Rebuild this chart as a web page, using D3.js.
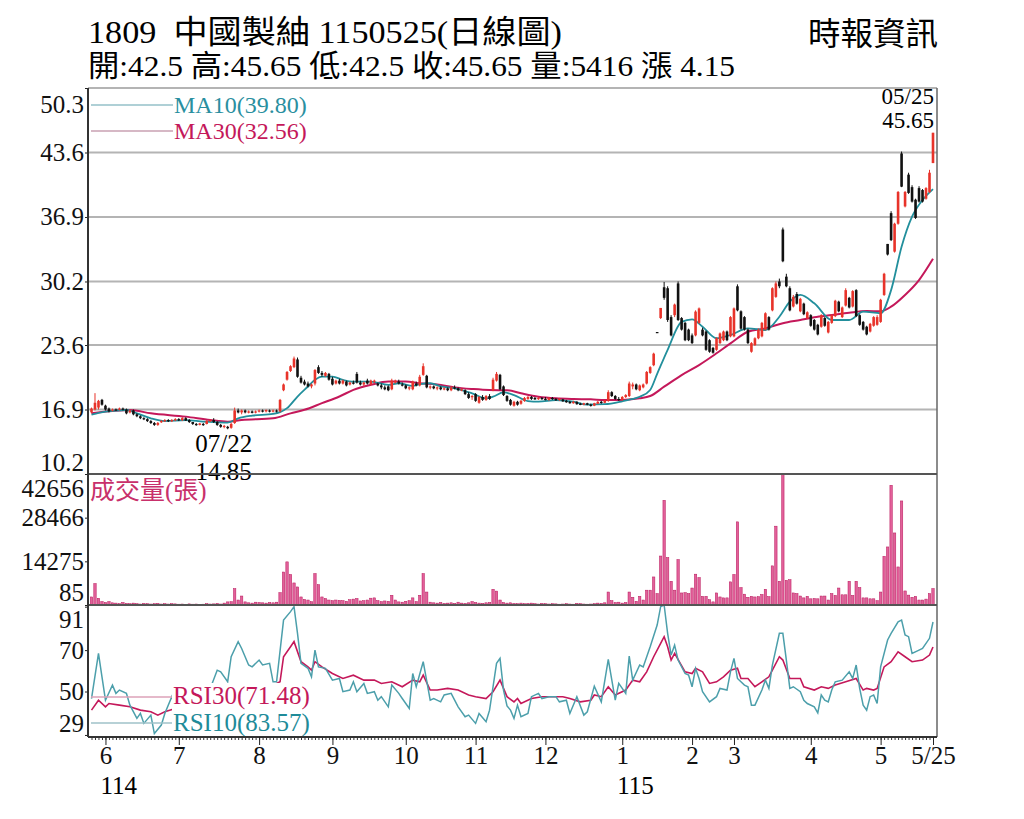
<!DOCTYPE html>
<html>
<head>
<meta charset="utf-8">
<script src="https://cdn.jsdelivr.net/npm/d3@7"></script>
<style>
  body { margin: 0; background: #fff; }
  svg { display: block; }
  text { font-family: "Liberation Serif", "Noto Sans CJK TC", serif; }
</style>
</head>
<body>
<svg id="chart" width="1024" height="819"></svg>
<script>
"use strict";

/**
 * Daily candlestick chart of 1809 with volume and RSI panels.
 */

var stockCode = "1809";
var stockName = "中國製紬";
var chartDate = "1150525";
var sourceName = "時報資訊";
var lowDate = "07/22";
var lastDate = "05/25";

// one value per trading day, from 114/05 to 115/05/25
var openPrices = [
  16.6,16.9,17.1,17.9,17.3,17.0,16.8,16.9,16.9,17.0,
  16.9,16.6,16.8,16.4,16.2,16.0,15.9,15.7,15.5,15.3,
  15.6,15.7,15.8,15.7,15.8,15.9,15.8,16.0,15.8,15.6,
  15.4,15.3,15.4,15.4,15.7,15.8,15.6,15.3,15.1,15.1,
  15.0,15.5,16.8,16.6,16.8,16.6,16.7,16.6,16.7,16.8,
  16.7,16.8,16.7,16.8,16.7,18.9,20.0,20.9,21.3,22.1,
  20.2,19.8,19.6,19.3,19.6,21.3,20.7,20.4,20.6,20.1,
  19.6,19.9,19.6,19.8,19.5,19.7,20.6,19.7,19.5,19.9,
  19.5,19.8,19.6,19.4,19.2,19.3,19.0,19.7,19.8,19.5,
  19.4,19.1,19.0,19.6,19.4,20.5,20.4,19.2,19.3,19.1,
  19.2,19.0,19.1,18.9,19.2,19.1,18.9,18.9,18.5,18.2,
  18.5,17.6,18.2,17.9,18.3,18.9,19.9,20.5,19.3,18.3,
  17.9,17.3,17.7,17.5,17.8,18.0,18.2,18.1,18.0,18.1,
  18.0,17.9,18.1,18.0,17.9,17.95,17.8,17.7,17.55,17.7,
  17.5,17.4,17.55,17.4,17.3,17.5,17.7,17.6,17.8,18.7,
  18.3,18.0,17.9,18.2,18.3,19.3,19.5,18.9,19.2,19.6,
  20.7,21.5,24.95,26.4,29.6,29.5,26.5,26.7,30.0,26.4,
  25.9,25.2,24.6,24.6,25.9,25.2,25.0,24.1,23.3,23.1,
  23.8,24.1,25.0,24.5,24.5,29.7,27.1,26.5,25.2,22.9,
  23.6,24.3,24.5,25.2,26.5,27.2,28.6,30.2,35.6,30.7,
  29.5,27.6,28.9,27.1,27.9,26.4,26.7,26.2,25.7,25.5,
  26.4,24.9,25.9,26.6,28.1,26.5,27.7,28.5,27.6,29.3,
  26.7,26.0,25.5,25.0,25.6,25.7,26.0,28.8,34.1,37.3,
  33.3,36.2,43.5,38.0,41.3,40.0,38.7,39.9,39.7,38.8,
  39.5,42.5
];

var highPrices = [
  17.1,18.6,17.9,18.0,17.4,17.1,17.0,17.0,17.1,17.1,
  17.0,16.9,16.9,16.5,16.3,16.1,16.0,15.8,15.6,15.6,
  15.8,15.9,15.9,15.9,16.0,16.0,16.1,16.1,15.9,15.6,
  15.5,15.5,15.5,15.8,15.9,16.0,15.7,15.4,15.3,15.2,
  15.5,17.1,17.0,16.9,16.9,16.8,16.8,16.8,16.9,16.9,
  16.9,16.9,16.9,16.9,18.0,19.6,20.9,21.5,22.4,22.3,
  20.4,20.0,19.8,19.6,21.1,21.5,20.9,20.8,20.7,20.3,
  20.0,20.1,20.0,19.9,19.8,19.9,20.8,19.9,19.8,20.1,
  20.0,20.0,19.7,19.6,19.4,19.4,20.1,20.0,20.0,19.7,
  19.5,19.3,19.9,19.8,20.5,21.7,20.5,19.4,19.4,19.3,
  19.3,19.2,19.2,19.3,19.4,19.2,19.1,19.0,18.7,18.4,
  18.6,18.3,18.4,18.4,18.5,20.2,20.8,20.6,19.4,18.4,
  18.0,17.8,17.8,17.9,18.2,18.3,18.3,18.2,18.2,18.2,
  18.2,18.2,18.2,18.1,18.1,18.0,17.9,17.8,17.8,17.75,
  17.6,17.6,17.6,17.5,17.6,17.8,17.8,17.9,18.9,18.8,
  18.4,18.2,18.3,18.5,19.8,19.7,19.6,19.5,19.6,20.9,
  21.4,22.8,24.95,27.45,30.15,29.7,26.7,27.9,30.2,26.5,
  26.0,25.3,24.8,27.2,27.5,25.4,25.1,24.2,23.4,24.4,
  24.9,25.1,25.1,26.6,27.5,29.9,27.2,26.6,25.3,23.9,
  24.4,25.3,26.0,27.0,26.6,29.6,30.2,30.5,35.8,31.0,
  29.7,28.8,29.1,28.5,28.0,27.1,26.8,26.3,25.8,26.8,
  26.5,26.1,26.8,28.3,28.2,27.6,29.5,28.6,29.3,29.4,
  26.8,26.1,25.6,25.9,26.6,26.7,28.4,31.1,34.1,37.5,
  36.3,39.6,43.7,39.6,41.5,40.2,38.8,40.1,39.8,40.0,
  41.8,45.65
];

var lowPrices = [
  16.5,16.8,16.9,17.3,16.8,16.6,16.7,16.8,16.8,16.8,
  16.4,16.5,16.3,16.1,15.9,15.8,15.6,15.4,15.2,15.2,
  15.5,15.6,15.6,15.6,15.7,15.7,15.7,15.7,15.5,15.3,
  15.2,15.25,15.2,15.35,15.6,15.5,15.2,15.0,14.95,14.85,
  14.9,15.4,16.5,16.4,16.5,16.5,16.5,16.5,16.6,16.6,
  16.6,16.6,16.6,16.6,16.6,18.8,19.9,20.8,21.2,20.2,
  19.6,19.4,19.2,19.1,19.4,20.6,20.3,20.3,19.9,19.4,
  19.5,19.5,19.5,19.3,19.4,19.5,19.6,19.4,19.3,19.5,
  19.4,19.6,19.3,19.0,18.9,18.8,18.9,19.6,19.5,19.3,
  19.0,18.9,18.9,19.3,19.3,20.4,19.1,19.0,19.0,18.9,
  18.9,18.9,18.8,18.8,19.0,18.8,18.8,18.4,18.0,17.9,
  17.7,17.5,17.8,17.8,17.9,18.8,19.8,18.9,18.3,17.7,
  17.3,17.2,17.3,17.4,17.7,17.9,17.9,17.9,17.9,17.9,
  17.85,17.8,17.9,17.8,17.8,17.7,17.6,17.5,17.5,17.4,
  17.35,17.35,17.35,17.2,17.25,17.45,17.5,17.55,17.7,18.2,
  17.9,17.8,17.8,18.1,18.2,19.0,18.9,18.8,19.1,19.5,
  20.6,21.4,24.95,26.3,28.3,26.0,24.5,26.5,26.1,25.1,
  24.0,24.0,23.7,24.5,25.8,24.5,23.0,22.8,22.7,23.0,
  23.7,24.0,24.0,24.4,24.4,27.1,25.2,25.1,23.7,22.8,
  23.5,24.2,24.4,25.1,25.1,27.1,28.5,29.5,32.2,29.6,
  27.1,27.5,27.8,27.0,26.7,26.3,25.5,25.1,24.6,25.4,
  25.5,24.8,25.8,26.5,27.0,26.4,27.6,27.4,27.5,26.5,
  25.6,25.1,24.6,24.9,25.5,25.6,25.9,28.7,32.9,34.4,
  33.2,36.1,40.0,37.9,39.3,38.4,36.7,38.4,38.4,38.7,
  39.4,42.5
];

var closePrices = [
  17.0,17.6,17.8,17.4,16.9,16.7,16.9,16.85,17.0,16.9,
  16.5,16.8,16.4,16.2,16.0,15.9,15.7,15.5,15.3,15.5,
  15.7,15.8,15.7,15.8,15.9,15.8,16.0,15.75,15.6,15.4,
  15.3,15.45,15.3,15.7,15.8,15.6,15.3,15.1,15.2,14.95,
  15.4,16.8,16.6,16.8,16.6,16.7,16.55,16.7,16.8,16.7,
  16.85,16.7,16.8,16.75,17.9,19.5,20.8,21.4,22.2,20.3,
  19.7,19.5,19.3,19.5,21.0,20.7,20.5,20.7,20.0,19.5,
  19.9,19.6,19.9,19.4,19.7,19.6,19.7,19.5,19.7,19.6,
  19.9,19.9,19.4,19.2,19.0,18.9,19.9,19.9,19.6,19.4,
  19.1,19.2,19.8,19.4,20.3,21.4,19.2,19.3,19.1,19.2,
  19.0,19.1,18.9,19.2,19.1,18.9,19.0,18.5,18.1,18.3,
  17.8,18.2,17.9,18.3,18.0,20.0,20.6,19.0,18.4,17.8,
  17.4,17.7,17.4,17.8,18.1,18.2,18.0,17.95,18.1,18.0,
  17.9,18.1,18.0,17.85,18.0,17.75,17.65,17.55,17.7,17.45,
  17.4,17.55,17.4,17.3,17.55,17.7,17.6,17.85,18.7,18.3,
  18.0,17.9,18.2,18.4,19.6,19.5,19.0,19.4,19.5,20.8,
  21.3,22.7,24.95,27.45,28.5,26.2,24.6,27.8,26.2,25.2,
  24.1,24.1,23.8,27.07,27.4,24.6,23.1,22.9,22.8,24.3,
  24.8,25.0,24.1,26.5,27.4,27.2,25.3,25.2,23.8,23.8,
  24.3,25.2,25.9,26.9,25.2,29.5,30.0,29.7,32.3,29.7,
  27.2,28.6,27.9,28.4,26.8,27.0,25.6,25.2,24.7,26.7,
  25.6,26.0,26.7,28.2,27.1,27.5,29.3,27.5,29.2,26.6,
  25.7,25.2,24.7,25.8,26.5,26.5,28.3,31.0,33.0,34.5,
  36.2,39.5,40.05,39.5,39.4,38.5,36.8,38.5,38.5,39.9,
  41.5,45.65
];

// volume in lots (張)
var volumes = [
  2700,7050,2270,1200,900,1200,800,700,500,900,
  600,500,700,500,400,600,500,400,500,600,
  400,500,400,500,450,350,400,300,450,350,
  400,300,350,500,400,450,600,400,700,1100,
  1150,5400,1700,3000,1100,800,700,1000,900,800,
  700,900,800,1000,4100,10800,14100,10000,7250,5950,
  2700,1900,1700,1150,10300,6700,2700,2200,1700,1500,
  1700,1600,1500,1300,1800,2000,2200,1400,1500,1700,
  2300,2400,1500,1200,1400,1300,3250,1700,1100,1000,
  1300,1500,2400,1200,3250,10300,4300,1000,800,700,
  900,600,700,800,600,1000,700,600,800,1200,
  900,700,600,800,900,5200,4600,1700,900,700,
  800,600,500,700,500,600,700,500,400,600,
  500,400,500,450,350,400,500,400,350,600,
  500,400,350,400,500,700,600,800,4300,1500,
  900,1000,700,900,4300,2600,1300,2900,1700,4900,
  4900,9200,3800,16000,34100,15500,7800,4900,14850,4000,
  4100,3800,5600,10100,9000,2900,2900,1800,1100,4000,
  2700,2400,2400,7600,10000,27100,5750,3600,2600,2900,
  2700,2800,3500,5200,2800,12800,25700,7800,42600,8100,
  8300,4000,3800,3000,2400,2900,2100,2200,2100,3000,
  3000,1700,3800,3200,5600,3400,3400,7800,3200,7800,
  5750,2400,2400,2100,2100,1500,4300,15900,18950,39000,
  23500,12450,33900,4650,3300,2600,2900,1700,1700,2000,
  3800,5416
];

// moving averages: [day, value]
var ma10 = [
  [0,16.36],[4,16.67],[10,16.85],[13,16.5],[17,15.98],[21,15.7],[27,15.8],[32,15.64],
  [36,15.57],[39,15.54],[42,15.98],[46,16.26],[52,16.45],[54,16.63],[56,17.04],[59,18.25],
  [62,19.29],[64,19.98],[66,20.32],[69,20.32],[72,19.98],[75,19.8],[80,19.8],[85,19.46],
  [88,19.63],[92,19.36],[94,19.53],[97,19.63],[100,19.3],[104,19.1],[109,18.58],[113,18.06],
  [115,18.23],[118,18.68],[121,18.4],[125,17.77],[128,17.71],[133,17.88],[138,17.71],[142,17.4],
  [147,17.45],[152,17.75],[155,18.0],[157,18.23],[160,18.93],[162,20.6],[165,23.1],[169,26.0],
  [172,26.27],[175,25.5],[179,24.3],[183,24.64],[188,25.33],[193,25.16],[197,26.54],[200,28.1],
  [203,28.8],[207,27.93],[212,26.2],[217,26.2],[221,27.06],[226,26.9],[229,29.3],[232,33.8],
  [235,36.93],[238,38.66],[241,39.80]
];

var ma30 = [
  [0,16.5],[6,16.74],[11,16.85],[17,16.5],[27,16.16],[34,15.81],[39,15.64],[43,15.81],
  [52,15.98],[57,16.5],[61,16.87],[66,17.56],[71,18.25],[75,18.94],[80,19.46],[85,19.8],
  [90,19.8],[94,19.63],[99,19.5],[104,19.2],[109,19.03],[114,18.92],[119,18.9],[123,18.58],
  [128,18.23],[133,18.06],[138,17.99],[143,17.96],[147,17.88],[152,17.9],[157,18.06],[160,18.3],
  [164,19.27],[169,20.48],[174,21.52],[179,22.74],[183,23.77],[188,24.98],[193,25.33],[198,25.86],
  [203,26.2],[207,26.48],[212,26.72],[217,26.96],[222,27.13],[226,27.1],[229,27.58],[233,28.8],
  [237,30.35],[241,32.56]
];

var rsi10 = [
  [0,46.6],[2,68.4],[3,57.1],[4,45.8],[6,53.1],[7,49.1],[8,50.7],[10,49.1],[11,43.4],[13,37.0],
  [14,39.4],[15,34.6],[17,38.6],[18,29.7],[20,33.8],[21,39.4],[23,47.5],[24,42.6],[27,45],[30,50],
  [33,47],[36,60.3],[37,59.5],[39,54.7],[40,66.8],[42,74.1],[43,70.8],[45,62.8],[46,61.9],[48,65.2],
  [49,62.8],[51,63.6],[52,54.7],[53,54.7],[55,84.5],[57,88.6],[58,91.0],[59,78.1],[60,63.6],[62,61.2],
  [63,57.1],[64,70.0],[65,61.9],[67,61.2],[69,55.5],[71,56.3],[72,49.9],[74,50.7],[75,54.7],[76,49.9],
  [78,53.9],[79,49.1],[81,49.9],[82,45.8],[83,47.5],[85,42.6],[86,53.1],[88,49.1],[89,46.6],[91,41.8],
  [92,58.7],[93,52.3],[95,64.4],[97,45.8],[98,46.6],[100,45.0],[101,48.3],[103,49.1],[104,45.8],[105,42.6],
  [107,37.8],[108,38.6],[110,34.6],[111,39.4],[113,35.4],[114,41.0],[116,63.6],[117,66.0],[118,50.7],[119,43.0],
  [120,41.0],[121,37.0],[122,43.4],[123,37.8],[125,39.4],[126,47.5],[128,49.1],[129,46.6],[131,47.5],[133,47.5],
  [134,45.0],[136,45.8],[137,39.4],[139,47.5],[141,38.6],[142,40.2],[144,52.6],[146,45.0],[148,65.5],[150,45.8],
  [151,53.9],[153,49.1],[154,67.1],[155,55.5],[157,62.8],[158,61.9],[160,71.6],[162,82.1],[163,91.0],[164,91.8],
  [165,78.1],[166,67.6],[167,72.4],[168,65.2],[170,58.7],[171,57.9],[172,52.3],[173,61.2],[174,56.3],[175,49.9],
  [177,45.0],[179,47.5],[180,51.5],[182,50.7],[183,59.5],[184,66.0],[185,56.3],[187,53.1],[188,52.3],[189,43.4],
  [190,43.4],[192,50.7],[193,55.5],[194,51.5],[195,62.8],[197,78.1],[198,78.1],[199,65.2],[200,51.5],[201,52.3],
  [203,49.9],[204,45.8],[205,44.2],[207,42.6],[208,39.7],[209,48.3],[210,45.8],[211,45.0],[212,50.7],[213,54.7],
  [215,55.5],[217,59.5],[218,56.3],[219,62.8],[220,51.5],[221,43.4],[222,41.0],[223,47.5],[224,48.3],[225,44.2],
  [226,61.9],[228,74.9],[229,78.1],[231,83.7],[232,84.5],[233,77.3],[234,76.5],[235,68.4],[237,70.0],[238,70.8],
  [240,75.7],[241,83.57]
];

var rsi30 = [
  [0,41.0],[2,45.8],[4,42.6],[5,44.2],[8,43.4],[11,42.6],[14,41.0],[17,40.2],[19,38.6],[21,40.2],
  [24,41.8],[28,44],[32,46],[36,48],[40,50],[44,51],[48,52],[52,53],[54,54.7],[55,66.8],
  [57,71.6],[58,74.1],[60,64.4],[62,61.9],[63,60.3],[64,64.4],[66,61.9],[69,58.7],[72,56.3],[75,57.9],
  [78,55.5],[81,55.5],[83,53.9],[86,54.7],[89,52.3],[92,55.5],[94,54.7],[95,57.9],[97,50.7],[99,50.7],
  [102,51.5],[105,50.7],[108,48.3],[110,47.5],[113,46.6],[115,49.9],[117,55.5],[119,47.5],[121,45.0],[122,46.6],
  [123,44.2],[126,46.6],[129,47.5],[132,47.5],[135,47.5],[137,46.6],[140,45.0],[143,45.8],[144,48.3],[146,47.5],
  [148,52.3],[150,48.3],[153,50.7],[155,55.5],[157,54.7],[159,59.5],[161,66.8],[163,73.2],[164,76.5],[165,71.6],
  [166,65.2],[167,68.4],[170,59.5],[172,58.7],[173,61.2],[175,59.5],[177,53.9],[179,54.7],[181,57.1],[183,60.3],
  [185,61.2],[186,56.3],[188,56.3],[190,52.3],[192,54.7],[194,57.1],[195,60.3],[197,66.8],[198,65.2],[200,56.3],
  [203,56.3],[204,52.3],[207,50.7],[209,52.3],[211,51.5],[213,53.1],[216,54.7],[219,56.3],[221,50.7],[222,51.5],
  [224,50.7],[225,51.5],[227,61.9],[229,64.4],[231,69.2],[233,66.8],[235,64.4],[238,65.2],[240,67.6],[241,71.48]
];

var priceTicks = [10.2, 16.9, 23.6, 30.2, 36.9, 43.6, 50.3];
var volumeTicks = [85, 14275, 28466, 42656];
var rsiTicks = [29, 50, 70, 91];
var rsiRange = [28.5, 91.8];

// [day, label]
var monthTicks = [[4,"6"],[25,"7"],[48,"8"],[69,"9"],[90,"10"],[110,"11"],[130,"12"],
                  [152,"1"],[172,"2"],[184,"3"],[206,"4"],[226,"5"],[241,"5/25"]];
var yearTicks = [[4,"114"],[152,"115"]];

var RED = "#e8332a";
var TEAL = "#228f9c";
var CRIMSON = "#c4185a";

var svg = d3.select("#chart");
var days = d3.range(closePrices.length);
var lastDay = days.length - 1;

var x = d3.scaleLinear().domain([0, lastDay]).range([91.5, 933]);
var yPrice = d3.scaleLinear().domain([priceTicks[0], priceTicks[priceTicks.length - 1]]).range([474, 88]);
var yVol = d3.scaleLinear().domain([volumeTicks[0], volumeTicks[volumeTicks.length - 1]]).range([605, 474]);
var yRsi = d3.scaleLinear().domain(rsiRange).range([736, 605]);

/**
 * Title lines above the chart.
 */
function drawHeader(svg) {
  var change = +(closePrices[lastDay] - closePrices[lastDay - 1]).toFixed(2);

  svg.append("text")
    .attr("x", 88).attr("y", 43)
    .attr("font-size", 32)
    .attr("textLength", 474)
    .attr("lengthAdjust", "spacingAndGlyphs")
    .style("white-space", "pre")
    .text(stockCode + "  " + stockName + " " + chartDate + "(日線圖)");

  svg.append("text")
    .attr("x", 88).attr("y", 76)
    .attr("font-size", 30)
    .attr("textLength", 647)
    .attr("lengthAdjust", "spacingAndGlyphs")
    .text("開:" + openPrices[lastDay] + " 高:" + highPrices[lastDay] + " 低:" + lowPrices[lastDay] +
          " 收:" + closePrices[lastDay] + " 量:" + volumes[lastDay] + " 漲 " + change);

  svg.append("text")
    .attr("x", 808).attr("y", 45)
    .attr("font-size", 32)
    .attr("textLength", 130)
    .attr("lengthAdjust", "spacingAndGlyphs")
    .text(sourceName);
}

/**
 * Left axis with the edge labels nudged inside the panel.
 */
function drawAxis(svg, scale, ticks, format, shiftLow, shiftHigh) {
  var axis = d3.axisLeft(scale)
    .tickValues(ticks)
    .tickSize(3)
    .tickPadding(1)
    .tickFormat(format);

  var g = svg.append("g")
    .attr("transform", "translate(88,0)")
    .attr("color", "#222")
    .call(axis);
  g.select(".domain").remove();
  g.selectAll("text")
    .attr("font-size", 25)
    .attr("fill", "#111")
    .attr("y", function (d, i) {
      if (i == 0) return shiftLow;
      if (i == ticks.length - 1) return shiftHigh;
      return 0;
    });
}

/**
 * Price panel: grid, moving averages, candles, legend and labels.
 */
function drawPrice(svg) {
  svg.append("g").selectAll("line")
    .data(priceTicks)
    .enter()
    .append("line")
    .attr("x1", 88).attr("x2", 937)
    .attr("y1", function (d) { return yPrice(d); })
    .attr("y2", function (d) { return yPrice(d); })
    .attr("stroke", "#b4b4b4")
    .attr("stroke-width", 2);

  var maLine = d3.line()
    .x(function (d) { return x(d[0]); })
    .y(function (d) { return yPrice(d[1]); })
    .curve(d3.curveMonotoneX);

  svg.append("path").datum(ma30)
    .attr("d", maLine).attr("fill", "none")
    .attr("stroke", CRIMSON).attr("stroke-width", 2);
  svg.append("path").datum(ma10)
    .attr("d", maLine).attr("fill", "none")
    .attr("stroke", TEAL).attr("stroke-width", 1.8);

  var candleColor = function (d) { return closePrices[d] > openPrices[d] ? RED : "#111"; };

  var candles = svg.append("g").selectAll("g")
    .data(days)
    .enter()
    .append("g");

  candles.append("line")
    .attr("x1", function (d) { return x(d); })
    .attr("x2", function (d) { return x(d); })
    .attr("y1", function (d) { return yPrice(highPrices[d]); })
    .attr("y2", function (d) { return yPrice(lowPrices[d]); })
    .attr("stroke", candleColor)
    .attr("stroke-width", 1);

  candles.append("rect")
    .attr("x", function (d) { return x(d) - 1.3; })
    .attr("width", 2.6)
    .attr("y", function (d) { return yPrice(Math.max(openPrices[d], closePrices[d])); })
    .attr("height", function (d) {
      return Math.max(1.2, Math.abs(yPrice(openPrices[d]) - yPrice(closePrices[d])));
    })
    .attr("fill", candleColor);

  // legend
  var legend = svg.append("g");
  legend.append("line")
    .attr("x1", 91).attr("x2", 173).attr("y1", 105).attr("y2", 105)
    .attr("stroke", "#94c1c8").attr("stroke-width", 1.5);
  legend.append("line")
    .attr("x1", 91).attr("x2", 173).attr("y1", 131).attr("y2", 131)
    .attr("stroke", "#c9a0b2").attr("stroke-width", 1.5);
  legend.append("text")
    .attr("x", 174).attr("y", 113)
    .attr("font-size", 24)
    .attr("fill", "#2a8fa0")
    .text("MA10(" + ma10[ma10.length - 1][1].toFixed(2) + ")");
  legend.append("text")
    .attr("x", 174).attr("y", 139)
    .attr("font-size", 24)
    .attr("fill", CRIMSON)
    .text("MA30(" + ma30[ma30.length - 1][1].toFixed(2) + ")");

  // last close
  svg.append("text")
    .attr("x", 934).attr("y", 104)
    .attr("text-anchor", "end").attr("font-size", 23)
    .text(lastDate);
  svg.append("text")
    .attr("x", 934).attr("y", 128)
    .attr("text-anchor", "end").attr("font-size", 23)
    .text(closePrices[lastDay].toFixed(2));

  // lowest point
  var lowDay = d3.minIndex(lowPrices);
  var lx = x(lowDay) - 4;
  svg.append("text")
    .attr("x", lx).attr("y", yPrice(lowPrices[lowDay]) + 23)
    .attr("text-anchor", "middle").attr("font-size", 25)
    .text(lowDate);
  svg.append("rect")
    .attr("x", lx - 25).attr("y", 463)
    .attr("width", 50).attr("height", 19)
    .attr("fill", "#fff");
  svg.append("text")
    .attr("x", lx).attr("y", 480)
    .attr("text-anchor", "middle").attr("font-size", 25)
    .text(lowPrices[lowDay].toFixed(2));

  drawAxis(svg, yPrice, priceTicks, d3.format(".1f"), -12, 16);
}

/**
 * Volume panel.
 */
function drawVolume(svg) {
  svg.append("g").selectAll("rect")
    .data(days)
    .enter()
    .append("rect")
    .attr("x", function (d) { return x(d) - 1.2; })
    .attr("width", 2.4)
    .attr("y", function (d) { return yVol(volumes[d]); })
    .attr("height", function (d) { return Math.max(0.8, yVol(volumeTicks[0]) - yVol(volumes[d])); })
    .attr("fill", "#e2609a")
    .attr("stroke", "#b8165a")
    .attr("stroke-width", 0.5);

  svg.append("text")
    .attr("x", 90).attr("y", 499)
    .attr("font-size", 25)
    .attr("fill", "#c8306b")
    .text("成交量(張)");

  drawAxis(svg, yVol, volumeTicks, d3.format("d"), -13, 14);
}

/**
 * RSI panel with its legend drawn on a white patch.
 */
function drawRsi(svg) {
  var rsiLine = d3.line()
    .x(function (d) { return x(d[0]); })
    .y(function (d) { return yRsi(d[1]); });

  svg.append("path").datum(rsi30)
    .attr("d", rsiLine).attr("fill", "none")
    .attr("stroke", CRIMSON).attr("stroke-width", 1.6);
  svg.append("path").datum(rsi10)
    .attr("d", rsiLine).attr("fill", "none")
    .attr("stroke", "#4c9fab").attr("stroke-width", 1.5);

  var legend = svg.append("g");
  legend.append("rect")
    .attr("x", 172).attr("y", 683)
    .attr("width", 143).attr("height", 52)
    .attr("fill", "#fff");
  legend.append("line")
    .attr("x1", 91).attr("x2", 172).attr("y1", 697).attr("y2", 697)
    .attr("stroke", "#dca2b8").attr("stroke-width", 1.5);
  legend.append("line")
    .attr("x1", 91).attr("x2", 172).attr("y1", 723).attr("y2", 723)
    .attr("stroke", "#9fc2c8").attr("stroke-width", 1.5);
  legend.append("text")
    .attr("x", 173).attr("y", 704)
    .attr("font-size", 25)
    .attr("fill", CRIMSON)
    .text("RSI30(" + rsi30[rsi30.length - 1][1].toFixed(2) + ")");
  legend.append("text")
    .attr("x", 173).attr("y", 731)
    .attr("font-size", 25)
    .attr("fill", "#1f8b99")
    .text("RSI10(" + rsi10[rsi10.length - 1][1].toFixed(2) + ")");

  drawAxis(svg, yRsi, rsiTicks, d3.format("d"), -11, 13);
}

/**
 * Frame of the three panels and the day axis.
 */
function drawFrame(svg) {
  var frame = svg.append("g").attr("fill", "none");
  frame.append("line").attr("x1", 937).attr("x2", 937).attr("y1", 88).attr("y2", 737)
    .attr("stroke", "#666").attr("stroke-width", 1.5);
  [474, 605].forEach(function (y) {
    frame.append("line").attr("x1", 88).attr("x2", 937).attr("y1", y).attr("y2", y)
      .attr("stroke", "#555").attr("stroke-width", 2);
  });
  frame.append("line").attr("x1", 88).attr("x2", 88).attr("y1", 88).attr("y2", 737)
    .attr("stroke", "#333").attr("stroke-width", 2);
  frame.append("line").attr("x1", 88).attr("x2", 937).attr("y1", 737).attr("y2", 737)
    .attr("stroke", "#333").attr("stroke-width", 2);

  var minor = svg.append("g")
    .attr("transform", "translate(0,737)")
    .attr("color", "#333")
    .call(d3.axisBottom(x).tickValues(days).tickSize(3).tickFormat(""));
  minor.select(".domain").remove();

  var major = svg.append("g")
    .attr("transform", "translate(0,737)")
    .attr("color", "#222")
    .call(d3.axisBottom(x)
      .tickValues(monthTicks.map(function (d) { return d[0]; }))
      .tickSize(8)
      .tickPadding(1)
      .tickFormat(function (d, i) { return monthTicks[i][1]; }));
  major.select(".domain").remove();
  major.selectAll("text").attr("font-size", 25).attr("fill", "#111");

  svg.append("g").selectAll("text")
    .data(yearTicks)
    .enter()
    .append("text")
    .attr("x", function (d) { return x(d[0]) - 5; })
    .attr("y", 794)
    .attr("font-size", 25)
    .text(function (d) { return d[1]; });
}

drawHeader(svg);
drawPrice(svg);
drawVolume(svg);
drawRsi(svg);
drawFrame(svg);
</script>
</body>
</html>
